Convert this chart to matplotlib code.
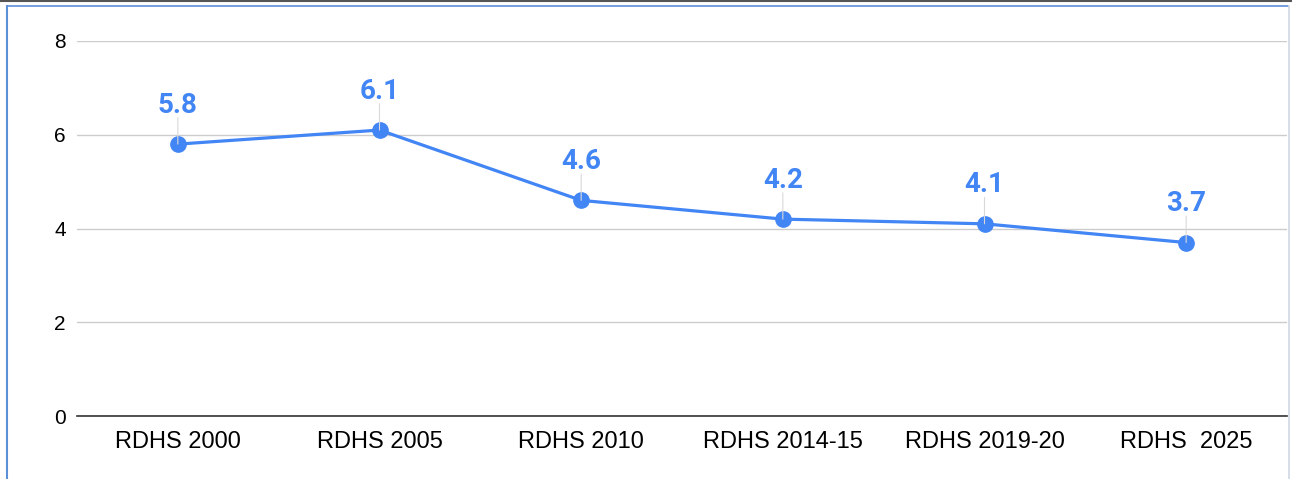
import matplotlib.pyplot as plt
from matplotlib.lines import Line2D

categories = ['RDHS 2000', 'RDHS 2005', 'RDHS 2010', 'RDHS 2014-15',
              'RDHS 2019-20', 'RDHS  2025']
values = [5.8, 6.1, 4.6, 4.2, 4.1, 3.7]
yticks = [0, 2, 4, 6, 8]

blue = '#4285F4'
W, H = 1292, 479

fig = plt.figure(figsize=(W / 100, H / 100), dpi=100)
ax = fig.add_axes([77 / W, 1 - 416 / H, (1287 - 77) / W, (416 - 41) / H])

x = list(range(len(categories)))
ax.plot(x, values, color=blue, linewidth=2.3, marker='o', markersize=11,
        zorder=3, clip_on=False)

# data labels with thin leader lines
for xi, v in zip(x, values):
    ax.annotate('', xy=(xi, v), xytext=(0, 19), textcoords='offset points',
                xycoords='data',
                arrowprops=dict(arrowstyle='-', color='#d9d9d9', lw=0.8,
                                shrinkA=0, shrinkB=0))
    ax.annotate(f'{v}', xy=(xi, v), xytext=(0, 28),
                textcoords='offset points', ha='center', va='center',
                fontsize=20, fontweight='bold', color=blue,
                family='Roboto')

ax.set_xlim(-0.5, len(categories) - 0.5)
ax.set_ylim(0, 8)
ax.set_yticks(yticks)
ax.set_xticks(x)
ax.set_xticklabels(categories, fontsize=17, family='Liberation Sans')
ax.set_yticklabels([str(t) for t in yticks], fontsize=15,
                   family='Liberation Sans')
ax.tick_params(length=0)
ax.tick_params(axis='x', pad=11)
ax.tick_params(axis='y', pad=8)

ax.grid(axis='y', color='#cccccc', linewidth=1)
ax.set_axisbelow(True)
for s in ['top', 'right', 'left']:
    ax.spines[s].set_visible(False)
ax.spines['bottom'].set_color('#333333')
ax.spines['bottom'].set_linewidth(1.2)

# outer frame
fig.add_artist(Line2D([0, 1], [1 - 0.5 / H, 1 - 0.5 / H], color='#555555',
                      lw=1.5, transform=fig.transFigure))
fig.add_artist(Line2D([6.5 / W, 1288 / W], [1 - 5.5 / H, 1 - 5.5 / H],
                      color='#5b8fd6', lw=1.2, transform=fig.transFigure))
fig.add_artist(Line2D([6.5 / W, 6.5 / W], [0, 1 - 5.5 / H],
                      color='#5b8fd6', lw=1.5, transform=fig.transFigure))
fig.add_artist(Line2D([1288.5 / W, 1288.5 / W], [0, 1 - 5.5 / H],
                      color='#d0d8e4', lw=1.2, transform=fig.transFigure))

fig.savefig('out.png', dpi=100)
